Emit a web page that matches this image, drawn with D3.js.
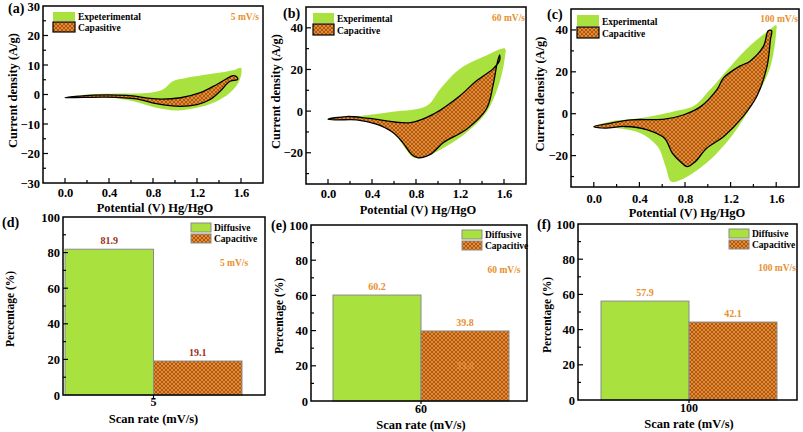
<!DOCTYPE html>
<html>
<head>
<meta charset="utf-8">
<script src="https://cdn.jsdelivr.net/npm/d3@7"></script>
<style>
html,body{margin:0;padding:0;background:#fff;}
svg{display:block;font-family:"Liberation Serif","Times New Roman","DejaVu Serif",serif;font-weight:bold;}
svg text{font-family:"Liberation Serif","Times New Roman","DejaVu Serif",serif;font-weight:bold;}
</style>
</head>
<body>
<svg id="chart" width="803" height="432"></svg>
<script>
// ---------------- DATA ----------------
const potentialTicks = [0.0, 0.4, 0.8, 1.2, 1.6];
const scanRateNames = ["5 mV/s", "60 mV/s", "100 mV/s"];
const scanRates = ["5", "60", "100"];
const panelLetters = ["(a)", "(b)", "(c)", "(d)", "(e)", "(f)"];
const cvLegendNames = [["Expeterimental", "Capasitive"], ["Experimental", "Capacitive"], ["Experimental", "Capacitive"]];
const barSeries = ["Diffusive", "Capacitive"];

// CV loops: [potential (V), current density (A/g)]
const expA = [[0,-1.1],[0.2,0],[0.5,0.3],[0.77,0.6],[0.89,1.7],[0.98,4.5],[1.1,5.6],[1.35,7.1],[1.53,8.2],[1.6,9.0],
  [1.59,5.1],[1.5,0.6],[1.35,-2.8],[1.2,-4.5],[1.02,-5.4],[0.83,-4.5],[0.62,-2.3],[0.41,-1.1],[0.17,-1.1]];
const capA = [[0,-1.1],[0.26,-0.2],[0.56,-0.3],[0.83,-1.5],[1.05,-1.1],[1.23,0.6],[1.38,3.4],[1.5,6.0],[1.53,6.4],[1.56,6.0],[1.57,5.1],
  [1.5,4.5],[1.41,1.1],[1.32,-1.7],[1.2,-3.4],[1.05,-4.0],[0.83,-3.1],[0.65,-1.5],[0.38,-0.9],[0.17,-1.0]];
const expB = [[0,-3.9],[0.29,-2.3],[0.59,-0.3],[0.9,2.6],[1.02,10.6],[1.2,20.3],[1.44,26.7],[1.61,30],
  [1.61,26.7],[1.56,13.9],[1.44,-0.6],[1.26,-10.3],[1.08,-16.8],[0.9,-21.6],[0.78,-22.4],[0.72,-19.2],[0.62,-11.9],[0.5,-7.1],[0.29,-4.2],[0.08,-4.2]];
const capB = [[0,-3.9],[0.17,-2.6],[0.38,-3.5],[0.75,-5.5],[0.96,-1.4],[1.2,7.4],[1.35,14.6],[1.5,20.3],[1.56,24.3],[1.56,27],
  [1.54,23.5],[1.5,12.2],[1.44,1.0],[1.26,-8.7],[1.05,-15.1],[0.93,-20.8],[0.82,-22.4],[0.76,-20.8],[0.68,-15.1],[0.59,-10.3],[0.44,-6.3],[0.26,-4.2],[0.08,-4.2]];
const expC = [[0,-6.1],[0.15,-3.7],[0.41,-2.1],[0.7,1.1],[0.88,3.8],[1.02,11.5],[1.2,22.7],[1.37,32.4],[1.55,40.4],[1.6,42.3],
  [1.6,38.8],[1.55,22.7],[1.43,8.3],[1.25,-7.7],[1.08,-18.9],[0.91,-26.9],[0.76,-31.7],[0.68,-32.5],[0.63,-25.3],[0.56,-15.7],[0.41,-9.3],[0.21,-6.9],[0.04,-6.4]];
const capC = [[0,-6.1],[0.15,-4.5],[0.33,-2.9],[0.62,-2.6],[0.79,-0.5],[0.94,3.5],[1.08,11.5],[1.14,17.2],[1.28,22.7],[1.37,25.1],[1.49,32.4],[1.53,39.6],[1.56,39.6],
  [1.55,35.6],[1.52,22.7],[1.43,8.3],[1.31,-1.3],[1.14,-10.9],[0.99,-16.5],[0.89,-22.9],[0.82,-25.3],[0.76,-22.9],[0.69,-18.9],[0.62,-11.7],[0.47,-7.7],[0.27,-6.1],[0.1,-6.9]];

// Contribution bars (%)
const diffusiveValues = [81.9, 60.2, 56.2];
const capacitiveValues = [19.1, 39.8, 44.3];
const diffusiveLabels = ["81.9", "60.2", "57.9"];
const capacitiveLabels = ["19.1", "39.8", "42.1"];
const ghostLabels = ["", "39.8", ""];   // faint duplicate label printed inside bar (e)
const percentTicks = [0, 20, 40, 60, 80, 100];

// ---------------- STYLE / LAYOUT ----------------
const GREEN = "#a9e23f", ORANGE = "#ea8a2c", LABEL_ORANGE = "#e8902e";
const FONT = "'Liberation Serif','Times New Roman','DejaVu Serif',serif";
const svg = d3.select("#chart").attr("font-family", FONT).attr("font-weight", "bold");
const defs = svg.append("defs");
const pat = defs.append("pattern").attr("id", "hatch").attr("patternUnits", "userSpaceOnUse")
  .attr("width", 4).attr("height", 4);
pat.append("rect").attr("width", 4).attr("height", 4).attr("fill", ORANGE);
pat.append("path").attr("d", "M0,0L4,4M4,0L0,4").attr("stroke", "#7a3a0e").attr("stroke-width", 0.6);

const cvLayout = [
  {x0: 43, x1: 263, y0: 6, y1: 183, yDom: [-30, 30], yMajor: 10, letter: [8, 13], rate: [259, 20],
   leg: {x: 53, y: 12, w: 22, h1: 9, h2: 10, gap: 1}, xTitleY: 212, yTitleX: 17, ticksY: 197},
  {x0: 306, x1: 526, y0: 7, y1: 184, yDom: [-35, 50], yMajor: 20, letter: [283, 18], rate: [525, 21],
   leg: {x: 313, y: 13, w: 21, h1: 10, h2: 11, gap: 1}, xTitleY: 214, yTitleX: 280, ticksY: 198},
  {x0: 571, x1: 799, y0: 9, y1: 187, yDom: [-35, 50], yMajor: 20, letter: [547, 19], rate: [798, 22],
   leg: {x: 577, y: 15, w: 22, h1: 11, h2: 11, gap: 1}, xTitleY: 217, yTitleX: 544, ticksY: 203}
];
const cvData = [[expA, capA], [expB, capB], [expC, capC]];

function txt(g) {
  return g.append("text").attr("font-family", FONT).attr("font-weight", "bold");
}
function drawBox(g, x0, x1, y0, y1) {
  g.append("rect").attr("x", x0).attr("y", y0).attr("width", x1 - x0).attr("height", y1 - y0)
    .attr("fill", "none").attr("stroke", "#000").attr("stroke-width", 1.5);
}

cvLayout.forEach((L, i) => {
  const g = svg.append("g");
  const x = d3.scaleLinear().domain([-0.2, 1.8]).range([L.x0, L.x1]);
  const y = d3.scaleLinear().domain(L.yDom).range([L.y1, L.y0]);
  const line = d3.line().x(d => x(d[0])).y(d => y(d[1])).curve(d3.curveCatmullRomClosed.alpha(0.5));
  g.append("path").datum(cvData[i][0]).attr("d", line).attr("fill", GREEN).attr("stroke", "none");
  g.append("path").datum(cvData[i][1]).attr("d", line).attr("fill", "url(#hatch)").attr("stroke", "#000").attr("stroke-width", 1.3);

  // axes
  const xMinor = d3.range(-0.2, 1.81, 0.2).map(v => +v.toFixed(2));
  const xa = d3.axisBottom(x).tickValues(potentialTicks).tickFormat(d3.format(".1f")).tickSize(0).tickPadding(0);
  const xg = g.append("g").attr("transform", `translate(0,${L.ticksY - 9})`).call(xa);
  xg.attr("font-family", FONT);
  xg.select(".domain").remove();
  xg.selectAll("text").attr("font-size", 12.5).attr("font-weight", "bold").attr("font-family", FONT).attr("fill", "#000");
  g.selectAll(null).data(xMinor.filter(v => v > -0.2 && v < 1.8)).enter().append("line")
    .attr("x1", d => x(d)).attr("x2", d => x(d)).attr("y1", L.y1)
    .attr("y2", d => L.y1 - (potentialTicks.some(t => Math.abs(t - d) < 1e-6) ? 5 : 3))
    .attr("stroke", "#000").attr("stroke-width", 1.2);

  const yTicks = d3.range(Math.ceil(L.yDom[0] / L.yMajor) * L.yMajor, L.yDom[1] + 0.01, L.yMajor);
  const ya = d3.axisLeft(y).tickValues(yTicks).tickFormat(d3.format("d")).tickSize(0).tickPadding(3);
  const yg = g.append("g").attr("transform", `translate(${L.x0},0)`).call(ya);
  yg.attr("font-family", FONT);
  yg.select(".domain").remove();
  yg.selectAll("text").attr("font-size", 12.5).attr("font-weight", "bold").attr("font-family", FONT).attr("fill", "#000");
  const yMinor = d3.range(Math.ceil(L.yDom[0] / (L.yMajor / 2)) * (L.yMajor / 2), L.yDom[1] + 0.01, L.yMajor / 2);
  g.selectAll(null).data(yMinor.filter(v => v > L.yDom[0] && v < L.yDom[1])).enter().append("line")
    .attr("y1", d => y(d)).attr("y2", d => y(d)).attr("x1", L.x0)
    .attr("x2", d => L.x0 + (Math.abs(d % L.yMajor) < 1e-6 ? 5 : 3))
    .attr("stroke", "#000").attr("stroke-width", 1.2);

  drawBox(g, L.x0, L.x1, L.y0, L.y1);

  // titles
  txt(g).attr("x", (L.x0 + L.x1) / 2 + 2).attr("y", L.xTitleY).attr("text-anchor", "middle")
    .attr("font-size", 12.5).text("Potential (V) Hg/HgO");
  txt(g).attr("transform", `translate(${L.yTitleX},${(L.y0 + L.y1) / 2 - 4}) rotate(-90)`)
    .attr("text-anchor", "middle").attr("font-size", 12.5).text("Current density (A/g)");
  txt(g).attr("x", L.letter[0]).attr("y", L.letter[1]).attr("font-size", 14).text(panelLetters[i]);
  txt(g).attr("x", L.rate[0]).attr("y", L.rate[1]).attr("text-anchor", "end").attr("font-size", 9.5)
    .attr("fill", LABEL_ORANGE).text(scanRateNames[i]);

  // legend
  const lg = L.leg;
  g.append("rect").attr("x", lg.x).attr("y", lg.y).attr("width", lg.w).attr("height", lg.h1).attr("fill", GREEN);
  g.append("rect").attr("x", lg.x).attr("y", lg.y + lg.h1 + lg.gap).attr("width", lg.w).attr("height", lg.h2)
    .attr("fill", "url(#hatch)").attr("stroke", "#000").attr("stroke-width", 1.2);
  txt(g).attr("x", lg.x + lg.w + 3).attr("y", lg.y + lg.h1 - 1).attr("font-size", 9.5).text(cvLegendNames[i][0]);
  txt(g).attr("x", lg.x + lg.w + 3).attr("y", lg.y + lg.h1 + lg.gap + lg.h2 - 1).attr("font-size", 9.5).text(cvLegendNames[i][1]);
});

// ---------------- BAR PANELS ----------------
const barLayout = [
  {x0: 63, x1: 265, y0: 217, y1: 395, bars: [65, 242], letter: [2, 227], yTitleX: 14, catY: 406, titleY: 423,
   leg: {x: 191, y: 223, w: 20, h: 9, gap: 2}, rate: [234, 266], labelColor: "#9c2f12"},
  {x0: 311, x1: 527, y0: 225, y1: 401, bars: [333, 509], letter: [271, 230], yTitleX: 283, catY: 413, titleY: 429,
   leg: {x: 462, y: 230, w: 20, h: 9, gap: 2}, rate: [504, 273], labelColor: LABEL_ORANGE},
  {x0: 578, x1: 797, y0: 224, y1: 400, bars: [601, 777], letter: [537, 229], yTitleX: 551, catY: 412, titleY: 428,
   leg: {x: 729, y: 229, w: 20, h: 9, gap: 2}, rate: [777, 271], labelColor: LABEL_ORANGE}
];

barLayout.forEach((L, i) => {
  const g = svg.append("g");
  const y = d3.scaleLinear().domain([0, 100]).range([L.y1, L.y0]);
  const xb = d3.scaleBand().domain(barSeries).range(L.bars).padding(0);
  const vals = [diffusiveValues[i], capacitiveValues[i]];
  const labs = [diffusiveLabels[i], capacitiveLabels[i]];
  g.selectAll(null).data(barSeries).enter().append("rect")
    .attr("x", d => xb(d)).attr("width", xb.bandwidth())
    .attr("y", (d, k) => y(vals[k])).attr("height", (d, k) => L.y1 - y(vals[k]))
    .attr("fill", (d, k) => k === 0 ? GREEN : "url(#hatch)")
    .attr("stroke", "#8a8a8a").attr("stroke-width", 1);
  g.selectAll(null).data(barSeries).enter().append("text")
    .attr("font-family", FONT).attr("font-weight", "bold")
    .attr("x", d => xb(d) + xb.bandwidth() / 2).attr("y", (d, k) => y(vals[k]) - 5)
    .attr("text-anchor", "middle").attr("font-size", 10).attr("fill", L.labelColor)
    .text((d, k) => labs[k]);
  if (ghostLabels[i]) {
    txt(g).attr("x", xb("Capacitive") + xb.bandwidth() / 2).attr("y", y(capacitiveValues[i] / 2) + 3)
      .attr("text-anchor", "middle").attr("font-size", 10).attr("fill", "#f0a050").attr("opacity", 0.55)
      .text(ghostLabels[i]);
  }

  const ya = d3.axisLeft(y).tickValues(percentTicks).tickFormat(d3.format("d")).tickSize(0).tickPadding(3);
  const yg = g.append("g").attr("transform", `translate(${L.x0},0)`).call(ya);
  yg.attr("font-family", FONT);
  yg.select(".domain").remove();
  yg.selectAll("text").attr("font-size", 12.5).attr("font-weight", "bold").attr("font-family", FONT).attr("fill", "#000");
  g.selectAll(null).data(d3.range(10, 100, 10)).enter().append("line")
    .attr("y1", d => y(d)).attr("y2", d => y(d)).attr("x1", L.x0)
    .attr("x2", d => L.x0 + (d % 20 === 0 ? 5 : 3)).attr("stroke", "#000").attr("stroke-width", 1.2);
  const catX = L.bars[0] + xb.bandwidth();
  g.append("line").attr("x1", catX).attr("x2", catX).attr("y1", L.y1).attr("y2", L.y1 + 3).attr("stroke", "#000").attr("stroke-width", 1.2);

  drawBox(g, L.x0, L.x1, L.y0, L.y1);

  txt(g).attr("x", catX).attr("y", L.catY).attr("text-anchor", "middle").attr("font-size", 12).text(scanRates[i]);
  txt(g).attr("x", catX).attr("y", L.titleY).attr("text-anchor", "middle").attr("font-size", 12.5).text("Scan rate (mV/s)");
  txt(g).attr("transform", `translate(${L.yTitleX},${(L.y0 + L.y1) / 2 + 3}) rotate(-90)`)
    .attr("text-anchor", "middle").attr("font-size", 11.5).text("Percentage (%)");
  txt(g).attr("x", L.letter[0]).attr("y", L.letter[1]).attr("font-size", 14).text(panelLetters[i + 3]);
  txt(g).attr("x", L.rate[0]).attr("y", L.rate[1]).attr("text-anchor", "middle").attr("font-size", 9.5)
    .attr("fill", LABEL_ORANGE).text(scanRateNames[i]);

  const lg = L.leg;
  barSeries.forEach((s, k) => {
    const yy = lg.y + k * (lg.h + lg.gap);
    g.append("rect").attr("x", lg.x).attr("y", yy).attr("width", lg.w).attr("height", lg.h)
      .attr("fill", k === 0 ? GREEN : "url(#hatch)").attr("stroke", "#8a8a8a").attr("stroke-width", 1);
    txt(g).attr("x", lg.x + lg.w + 3).attr("y", yy + lg.h - 1).attr("font-size", 9.5).text(s);
  });
});
</script>
</body>
</html>
